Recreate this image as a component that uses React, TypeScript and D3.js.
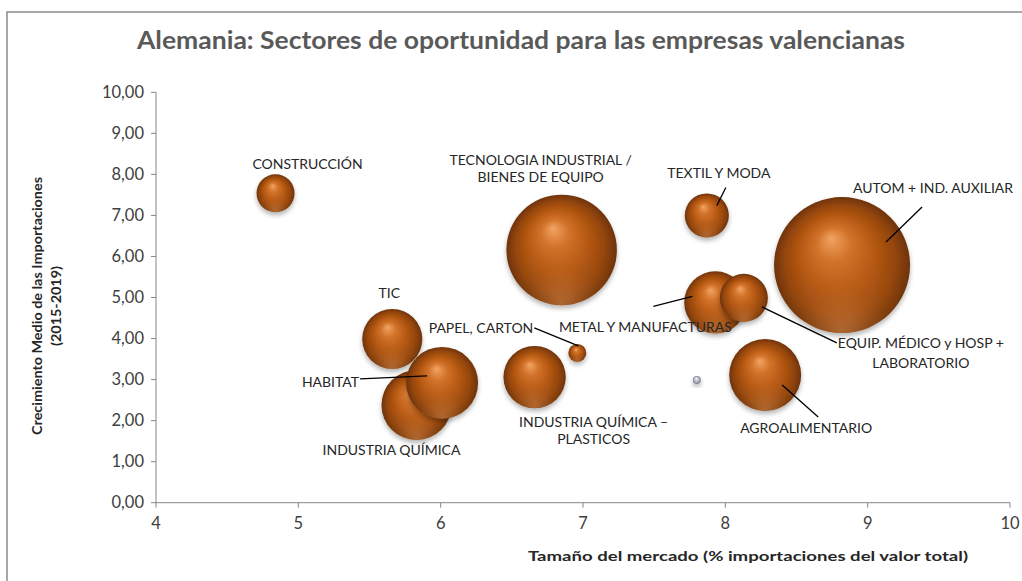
import React from "react";
import * as d3 from "d3";

// ---- data ----
const sectors = [
  "CONSTRUCCIÓN",
  "TIC",
  "INDUSTRIA QUÍMICA",
  "HABITAT",
  "TECNOLOGIA INDUSTRIAL / BIENES DE EQUIPO",
  "INDUSTRIA QUÍMICA – PLASTICOS",
  "PAPEL, CARTON",
  "REFERENCIA",
  "TEXTIL Y MODA",
  "METAL Y MANUFACTURAS",
  "EQUIP. MÉDICO y HOSP + LABORATORIO",
  "AGROALIMENTARIO",
  "AUTOM + IND. AUXILIAR",
];
const marketSize = [4.84, 5.66, 5.83, 6.01, 6.85, 6.66, 6.96, 7.8, 7.87, 7.93, 8.13, 8.28, 8.82];
const importGrowth = [7.54, 3.99, 2.38, 2.92, 6.16, 3.06, 3.65, 2.99, 7.0, 4.88, 4.99, 3.11, 5.79];
const bubbleSize = [7.8, 19.5, 26.5, 28, 66, 21, 1.75, 0.35, 10.5, 21, 12.5, 28, 100];
const labelLines = [
  ["CONSTRUCCIÓN"],
  ["TIC"],
  ["INDUSTRIA QUÍMICA"],
  ["HABITAT"],
  ["TECNOLOGIA INDUSTRIAL /", "BIENES DE EQUIPO"],
  ["INDUSTRIA QUÍMICA –", "PLASTICOS"],
  ["PAPEL, CARTON"],
  [],
  ["TEXTIL Y MODA"],
  ["METAL Y MANUFACTURAS"],
  ["EQUIP. MÉDICO y HOSP +", "LABORATORIO"],
  ["AGROALIMENTARIO"],
  ["AUTOM + IND. AUXILIAR"],
];
const xTicks = [4, 5, 6, 7, 8, 9, 10];
const yTicks = [0, 1, 2, 3, 4, 5, 6, 7, 8, 9, 10];
const title = "Alemania: Sectores de oportunidad para las empresas valencianas";
const xTitle = "Tamaño del mercado (% importaciones del valor total)";
const yTitle = ["Crecimiento Medio de las Importaciones", "(2015-2019)"];

// ---- label layout (pixel offsets from bubble center) ----
type Lbl = { dx: number; dy: number[]; anchor: string; leader?: [number, number, number, number] };
const labelLayout: Lbl[] = [
  { dx: 32, dy: [-24], anchor: "middle" },
  { dx: -3, dy: [-41], anchor: "middle" },
  { dx: -25, dy: [50], anchor: "middle" },
  { dx: -83, dy: [4], anchor: "end", leader: [-82, -4, -15, -7] },
  { dx: -21, dy: [-85, -68], anchor: "middle" },
  { dx: 59, dy: [50, 67], anchor: "middle" },
  { dx: -44, dy: [-20], anchor: "end", leader: [-43, -25, 1, -7] },
  { dx: 0, dy: [], anchor: "middle" },
  { dx: 12, dy: [-37], anchor: "middle", leader: [19, -28, 10, -10] },
  { dx: -70, dy: [30], anchor: "middle", leader: [-62, 4, -23, -6] },
  { dx: 177, dy: [50, 70], anchor: "middle", leader: [18, 9, 93, 45] },
  { dx: 41, dy: [58], anchor: "middle", leader: [17, 10, 53, 42] },
  { dx: 91, dy: [-72], anchor: "middle", leader: [80, -58, 44, -23] },
];

const W = 1022;
const H = 581;
const FONT = "Lato, 'Open Sans', sans-serif";

export default function App() {
  const x = d3.scaleLinear().domain([4, 10]).range([156, 1010]);
  const y = d3.scaleLinear().domain([0, 10]).range([502.7, 92.3]);
  const r = d3.scaleSqrt().domain([0, 100]).range([0, 68]);
  const fmt = (v: number) => d3.format(".2f")(v).replace(".", ",");

  const pts = sectors.map((s, i) => ({
    name: s,
    cx: x(marketSize[i]),
    cy: y(importGrowth[i]),
    r: r(bubbleSize[i]),
    gray: labelLines[i].length === 0,
    i,
  }));

  return (
    <svg
      width={W}
      height={H}
      style={{ position: "fixed", left: 0, top: 0, background: "#fff" }}
      fontFamily={FONT}
    >
      <defs>
        <radialGradient id="cu" cx="0.5" cy="0.5" r="0.5" fx="0.42" fy="0.3">
          <stop offset="0" stopColor="#f2a464" />
          <stop offset="0.25" stopColor="#d2732a" />
          <stop offset="0.55" stopColor="#b55812" />
          <stop offset="0.82" stopColor="#93450b" />
          <stop offset="1" stopColor="#6e3307" />
        </radialGradient>
        <radialGradient id="cuGlow" cx="0.5" cy="0.98" r="0.55">
          <stop offset="0" stopColor="#e8985a" stopOpacity="0.5" />
          <stop offset="0.6" stopColor="#d88040" stopOpacity="0.12" />
          <stop offset="1" stopColor="#d88040" stopOpacity="0" />
        </radialGradient>
        <radialGradient id="ag" cx="0.5" cy="0.5" r="0.5" fx="0.42" fy="0.3">
          <stop offset="0" stopColor="#ffffff" />
          <stop offset="0.4" stopColor="#c9cbd6" />
          <stop offset="1" stopColor="#7d8090" />
        </radialGradient>
        <filter id="sh" x="-30%" y="-30%" width="160%" height="170%">
          <feGaussianBlur in="SourceAlpha" stdDeviation="2.5" />
          <feOffset dx="0" dy="3" result="b" />
          <feComponentTransfer>
            <feFuncA type="linear" slope="0.3" />
          </feComponentTransfer>
          <feMerge>
            <feMergeNode />
            <feMergeNode in="SourceGraphic" />
          </feMerge>
        </filter>
      </defs>

      <rect x={7} y={12} width={W} height={H} fill="#fff" stroke="#8c8c8c" strokeWidth={1.5} />

      <text
        x={521}
        y={49}
        textAnchor="middle"
        fontSize={25}
        fontWeight="bold"
        fill="#595959"
        textLength={768}
        lengthAdjust="spacingAndGlyphs"
      >
        {title}
      </text>

      {/* axes */}
      <g stroke="#868686" strokeWidth={1}>
        <line x1={x(4)} x2={x(4)} y1={y(10)} y2={y(0)} />
        <line x1={x(4)} x2={x(10)} y1={y(0)} y2={y(0)} />
        {yTicks.map((t) => (
          <line key={"yt" + t} x1={x(4) - 5} x2={x(4)} y1={y(t)} y2={y(t)} />
        ))}
        {xTicks.map((t) => (
          <line key={"xt" + t} x1={x(t)} x2={x(t)} y1={y(0)} y2={y(0) + 5} />
        ))}
      </g>
      <g fontSize={16.5} fill="#404040">
        {yTicks.map((t) => (
          <text key={"yl" + t} x={x(4) - 12} y={y(t) + 5.5} textAnchor="end">
            {fmt(t)}
          </text>
        ))}
        {xTicks.map((t) => (
          <text key={"xl" + t} x={x(t)} y={y(0) + 26} textAnchor="middle">
            {t}
          </text>
        ))}
      </g>

      <text
        x={748}
        y={561}
        textAnchor="middle"
        fontSize={14}
        fontWeight="bold"
        fill="#262626"
        textLength={440}
        lengthAdjust="spacingAndGlyphs"
      >
        {xTitle}
      </text>
      <g transform="translate(0,306) rotate(-90)" fontSize={13.5} fontWeight="bold" fill="#262626">
        <text x={0} y={42} textAnchor="middle" textLength={258} lengthAdjust="spacingAndGlyphs">
          {yTitle[0]}
        </text>
        <text x={0} y={61} textAnchor="middle" textLength={80} lengthAdjust="spacingAndGlyphs">
          {yTitle[1]}
        </text>
      </g>

      {/* bubbles */}
      <g>
        {pts.map((p) => (
          <g key={"b" + p.i} filter="url(#sh)">
            <circle cx={p.cx} cy={p.cy} r={p.r} fill={p.gray ? "url(#ag)" : "url(#cu)"} />
            {!p.gray && <circle cx={p.cx} cy={p.cy} r={p.r} fill="url(#cuGlow)" />}
          </g>
        ))}
      </g>

      {/* labels */}
      <g fontSize={14} fill="#262626">
        {pts.map((p) => {
          const L = labelLayout[p.i];
          return (
            <g key={"l" + p.i}>
              {L.leader && (
                <line
                  x1={p.cx + L.leader[0]}
                  y1={p.cy + L.leader[1]}
                  x2={p.cx + L.leader[2]}
                  y2={p.cy + L.leader[3]}
                  stroke="#000"
                  strokeWidth={1.3}
                />
              )}
              {labelLines[p.i].map((ln, k) => (
                <text key={k} x={p.cx + L.dx} y={p.cy + L.dy[k]} textAnchor={L.anchor}>
                  {ln}
                </text>
              ))}
            </g>
          );
        })}
      </g>
    </svg>
  );
}
